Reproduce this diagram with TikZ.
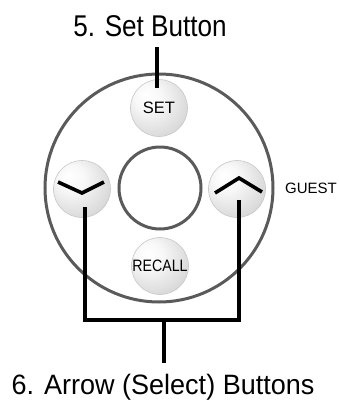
\documentclass[tikz,border=0pt]{standalone}
\usepackage{fontspec}
\setmainfont{Liberation Sans}
\usetikzlibrary{calc}
\definecolor{ring}{HTML}{5A5A5A}
\definecolor{btnedge}{HTML}{C8C8C8}
\pgfdeclareradialshading{btnshade}{\pgfpoint{-12bp}{12bp}}{color(0bp)=(white); color(12bp)=(white!97!black); color(40bp)=(white!80!black); color(60bp)=(white!70!black)}
\tikzset{
  ringc/.style={circle, draw=ring, line width=3pt, inner sep=0pt},
  btn/.style={circle, draw=btnedge, line width=0.6pt, shading=btnshade, minimum size=57pt, inner sep=0pt, font=\fontsize{16.5}{16.5}\selectfont},
  lead/.style={line width=3.6pt, black},
  chev/.style={line width=3.6pt, black, line cap=butt, line join=miter},
  title/.style={font=\fontsize{30}{30}\selectfont, inner sep=0pt}
}
\begin{document}
\begin{tikzpicture}[x=1pt,y=-1pt]
\useasboundingbox (0,0) rectangle (339,400);
\node[ringc, minimum size=228pt] (outer) at (159,188) {};
\node[ringc, minimum size=82pt] (inner) at (160,188) {};
\node[btn] (set) at (159,108) {SET};
\node[btn] (recall) at (160,266) {\scalebox{0.86}[1]{RECALL}};
\node[btn] (down) at (82,189) {};
\node[btn] (up) at (237,189) {};
\draw[chev] ($(down.center)+(-24,-7)$) -- ($(down.center)+(0,4)$) -- ($(down.center)+(22,-7)$);
\draw[chev] ($(up.center)+(-22,4)$) -- ($(up.center)+(2,-11)$) -- ($(up.center)+(25,3)$);
\node[font=\fontsize{15}{15}\selectfont, inner sep=0pt, anchor=west] (guest) at (285,188) {GUEST};
\node[title, anchor=base] (t5) at (150,36) {\scalebox{0.87}[1]{5. Set Button}};
\node[title, anchor=base, font=\fontsize{28}{28}\selectfont] (t6) at (163,394) {\scalebox{0.965}[1]{6. Arrow (Select) Buttons}};
\coordinate (a5) at (157,47);
\coordinate (s5) at (157,88);
\draw[lead] (a5) -- (s5);
\coordinate (dl) at (85,207);
\coordinate (ul) at (239,200);
\coordinate (bl) at (85,320);
\coordinate (br) at (239,320);
\coordinate (bm) at (164,320);
\coordinate (b6) at (164,363);
\draw[lead] (dl) -- (bl) -- (br) -- (ul);
\draw[lead] (bm) -- (b6);
\end{tikzpicture}
\end{document}
